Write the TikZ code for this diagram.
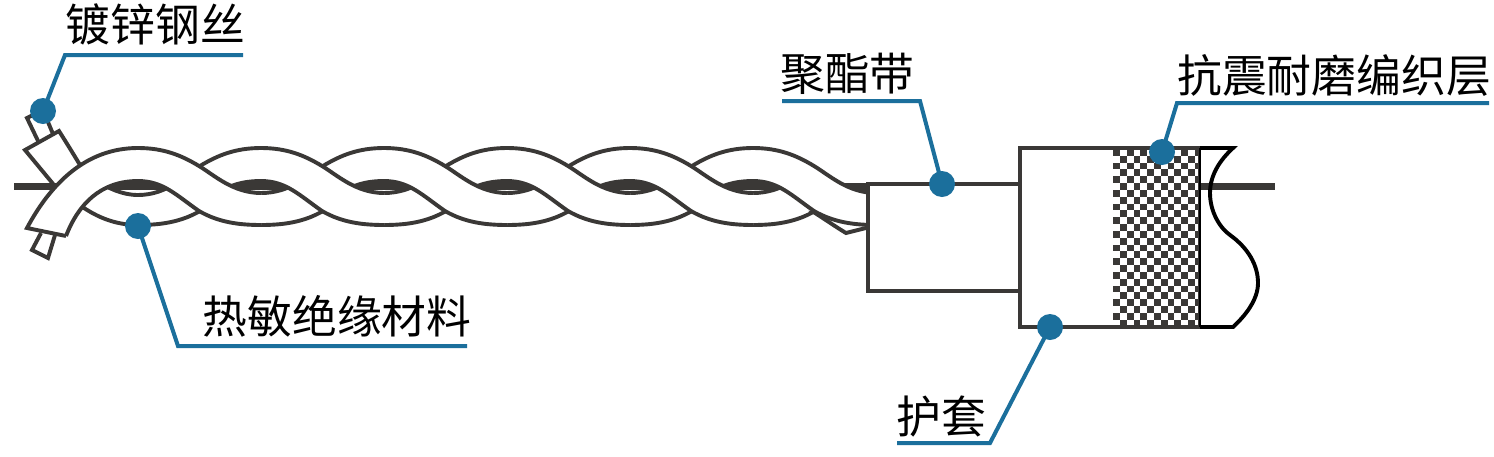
\documentclass[tikz,border=0pt]{standalone}
\usepackage{fontspec}
\newfontfamily\cjklabel{Noto Sans CJK SC}
\definecolor{cablegray}{HTML}{3A3836}
\definecolor{leaderblue}{HTML}{1B6F9C}
\tikzset{
  edge/.style={draw=cablegray,line width=3.9pt,line join=miter},
  core/.style={draw=cablegray,line width=7pt},
  leader/.style={draw=leaderblue,line width=4pt,line join=miter},
  dot/.style={circle,fill=leaderblue,minimum size=26pt,inner sep=0pt},
  caption/.style={inner sep=0pt,text=black,font=\cjklabel\fontsize{44.8}{44.8}\selectfont},
}
% One strand section rising from a trough to the next crest (passes underneath).
\newcommand{\risingband}[1]{%
  \begin{scope}[shift={(#1,0)}]
    \fill[white] (0,193) .. controls (30,193) and (47,175) .. (62,166)
      .. controls (80,155) and (98,148) .. (123,148) -- (123,181)
      .. controls (85,181) and (72,200) .. (62,211)
      .. controls (43,222) and (23,225) .. (0,225) -- cycle;
    \draw[edge] (0,193) .. controls (30,193) and (47,175) .. (62,166)
      .. controls (80,155) and (98,148) .. (123,148);
    \draw[edge] (0,225) .. controls (23,225) and (43,222) .. (62,211)
      .. controls (72,200) and (85,181) .. (123,181);
  \end{scope}}
% One strand section falling from a crest to the next trough (passes on top).
\newcommand{\fallingband}[1]{%
  \begin{scope}[shift={(#1,0)}]
    \fill[white] (0,148) .. controls (25,148) and (43,155) .. (61,166)
      .. controls (76,175) and (95,193) .. (123,193) -- (123,225)
      .. controls (100,225) and (80,222) .. (61,211)
      .. controls (38,195) and (25,181) .. (0,181) -- cycle;
    \draw[edge] (0,148) .. controls (25,148) and (43,155) .. (61,166)
      .. controls (76,175) and (95,193) .. (123,193);
    \draw[edge] (0,181) .. controls (25,181) and (38,195) .. (61,211)
      .. controls (80,222) and (100,225) .. (123,225);
  \end{scope}}
\begin{document}
\begin{tikzpicture}[x=1pt,y=-1pt]
\useasboundingbox (0,0) rectangle (1494,456);
\fill[white] (0,0) rectangle (1494,456);

% central galvanised wire
\draw[core] (14,186.5) -- (868,186.5);

% stripped strand ends at the left
\draw[edge,fill=white] (39,143) -- (27,118) -- (43,110) -- (53,134);
\draw[edge,fill=white] (54,185) -- (25,150) -- (59,131)
  .. controls (66,142) and (74,155) .. (80,165) -- (100,190) -- cycle;
\draw[edge,fill=white] (41,233) -- (32,250) -- (48,258) -- (55,235);

% first hidden strand section, under the leading band
\fill[white] (70,190) .. controls (100,180) and (115,195) .. (138,195) -- (138,225)
  .. controls (115,225) and (97,217) .. (80,206) -- cycle;
\draw[edge] (95,180) .. controls (108,188) and (122,195) .. (138,195);
\draw[edge] (81,206) .. controls (97,217) and (115,225) .. (138,225);

% rising (rear) sections of the twist
\begin{scope}[shift={(138,0)}]
  \fill[white] (0,195) .. controls (30,195) and (47,175) .. (62,166)
    .. controls (80,155) and (98,148) .. (123,148) -- (123,181)
    .. controls (85,181) and (72,200) .. (62,211)
    .. controls (43,222) and (23,225) .. (0,225) -- cycle;
  \draw[edge] (0,195) .. controls (30,195) and (47,175) .. (62,166)
    .. controls (80,155) and (98,148) .. (123,148);
  \draw[edge] (0,225) .. controls (23,225) and (43,222) .. (62,211)
    .. controls (72,200) and (85,181) .. (123,181);
\end{scope}
\foreach \t in {261,384,507,630} {\risingband{\t}}

% last rear section, cut where it goes under the final band
\begin{scope}[shift={(753,0)}]
  \fill[white] (0,193) .. controls (30,193) and (47,175) .. (62,166)
    -- (62,211) .. controls (43,222) and (23,225) .. (0,225) -- cycle;
  \draw[edge] (0,193) .. controls (30,193) and (47,175) .. (62,166);
  \draw[edge] (0,225) .. controls (23,225) and (43,222) .. (62,211);
\end{scope}
\draw[edge,fill=white] (815,213) .. controls (826,220) and (836,227) .. (846,233)
  -- (870,227) -- (870,215) -- cycle;

% leading band with its cut end
\fill[white] (27,228) .. controls (50,185) and (85,148) .. (138,148) -- (138,181)
  .. controls (100,181) and (78,205) .. (66,236) -- cycle;
\draw[edge] (66,236) -- (27,228) .. controls (50,185) and (85,148) .. (138,148);
\draw[edge] (66,236) .. controls (78,205) and (100,181) .. (138,181);

% falling (front) sections of the twist
\foreach \p in {138,261,384,507,630,753} {\fallingband{\p}}

% polyester tape
\draw[edge,fill=white] (868,184) rectangle (1020,291);

% outer jacket and braid
\fill[white] (1020,148) rectangle (1200,327);
\foreach \j in {0,...,25} {
  \foreach \i in {0,...,12} {
    \pgfmathtruncatemacro{\cellparity}{mod(\i+\j,2)}
    \ifnum\cellparity=0
      \fill[cablegray] (1113+\i*6.83,149+\j*6.83) rectangle +(6.83,6.83);
    \fi
  }
}
\draw[edge] (1020,148) rectangle (1200,327);

% torn edge of the jacket
\fill[white] (1201,149) -- (1233,149)
  .. controls (1220,160) and (1210,175) .. (1210,193)
  .. controls (1210,212) and (1220,228) .. (1230,235)
  .. controls (1248,248) and (1258,265) .. (1258,283)
  .. controls (1258,300) and (1245,316) .. (1233,327) -- (1201,327) -- cycle;
\draw[core] (1200,186.5) -- (1275,186.5);
\draw[black,line width=3.9pt,line join=miter] (1200,148) -- (1233,148)
  .. controls (1220,160) and (1210,175) .. (1210,193)
  .. controls (1210,212) and (1220,228) .. (1230,235)
  .. controls (1248,248) and (1258,265) .. (1258,283)
  .. controls (1258,300) and (1245,316) .. (1233,327) -- (1200,327);
\draw[black,line width=2pt] (1200,148) -- (1200,327);

% captions
\node[caption] (zinc) at (155.5,24) {镀锌钢丝};
\node[caption] (tape) at (847.5,74) {聚酯带};
\node[caption] (braid) at (1334,75) {抗震耐磨编织层};
\node[caption] (thermal) at (337,316) {热敏绝缘材料};
\node[caption] (jacket) at (941,417) {护套};

% leader dots
\node[dot] (dotzinc) at (43,111) {};
\node[dot] (dottape) at (942,184) {};
\node[dot] (dotbraid) at (1162,152) {};
\node[dot] (dotthermal) at (138,226) {};
\node[dot] (dotjacket) at (1050,327) {};

% leaders: underline, bend, then on to the dot
\coordinate (zincend) at (243,55);
\coordinate (zincbend) at (65,55);
\coordinate (tapeend) at (782,101);
\coordinate (tapebend) at (920,101);
\coordinate (braidend) at (1489,103);
\coordinate (braidbend) at (1177,103);
\coordinate (thermalend) at (467,346);
\coordinate (thermalbend) at (178,346);
\coordinate (jacketend) at (897,443);
\coordinate (jacketbend) at (990,443);
\draw[leader] (zincend) -- (zincbend) -- (dotzinc.center);
\draw[leader] (tapeend) -- (tapebend) -- (dottape.center);
\draw[leader] (braidend) -- (braidbend) -- (dotbraid.center);
\draw[leader] (thermalend) -- (thermalbend) -- (dotthermal.center);
\draw[leader] (jacketend) -- (jacketbend) -- (dotjacket.center);
\end{tikzpicture}
\end{document}
